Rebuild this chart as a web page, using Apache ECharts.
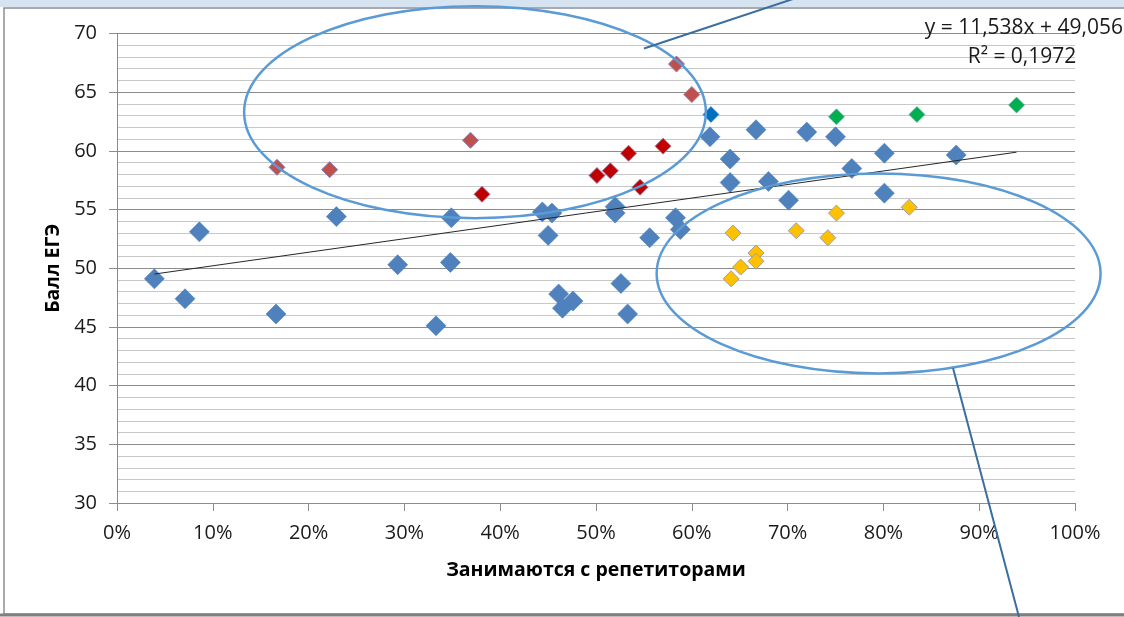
<!DOCTYPE html>
<html><head><meta charset="utf-8">
<script src="https://cdn.jsdelivr.net/npm/echarts@6/dist/echarts.min.js"></script>
<style>html,body{margin:0;padding:0;background:#fff}#c{width:1124px;height:617px}</style>
</head><body><div id="c"></div>
<script>
// ---- data ----
const blueX = [0.039,0.071,0.086,0.166,0.229,0.293,0.333,0.348,0.349,0.444,0.454,0.450,0.461,0.476,0.465,0.520,0.520,0.526,0.533,0.556,0.583,0.588,0.619,0.640,0.640,0.667,0.680,0.701,0.720,0.750,0.767,0.801,0.801,0.876];
const blueY = [49.1,47.4,53.1,46.1,54.4,50.3,45.1,50.5,54.3,54.8,54.7,52.8,47.8,47.2,46.6,55.25,54.7,48.7,46.1,52.6,54.3,53.3,61.2,59.3,57.3,61.8,57.4,55.8,61.6,61.2,58.5,59.8,56.4,59.65];
const darkBlueX = [0.620];
const darkBlueY = [63.1];
const lightRedX = [0.167,0.222,0.369,0.584,0.600];
const lightRedY = [58.6,58.4,60.9,67.4,64.8];
const darkRedX = [0.381,0.501,0.515,0.534,0.570,0.546];
const darkRedY = [56.3,57.9,58.3,59.8,60.4,56.9];
const greenX = [0.751,0.835,0.939];
const greenY = [62.9,63.1,63.9];
const yellowX = [0.643,0.667,0.667,0.651,0.641,0.751,0.827,0.709,0.742];
const yellowY = [53.0,51.3,50.6,50.1,49.1,54.7,55.2,53.2,52.6];
const trendSlope = 11.538, trendIntercept = 49.056;
const equationText = 'y = 11,538x + 49,056';
const r2Text = 'R² = 0,1972';
const xTickValues = [0,0.1,0.2,0.3,0.4,0.5,0.6,0.7,0.8,0.9,1];
const yTickValues = [30,35,40,45,50,55,60,65,70];
const xTitle = 'Занимаются с репетиторами';
const yTitle = 'Балл ЕГЭ';
// annotation ellipses in data space: [cx, cy, rx, ry]
const upperEllipse = [0.3737, 63.3, 0.241, 9.03];
const lowerEllipse = [0.795, 49.56, 0.2317, 8.52];

const zip = (xs, ys) => xs.map((x, i) => [x, ys[i]]);
const allX = [].concat(blueX, darkBlueX, lightRedX, darkRedX, greenX, yellowX);
const xmin = Math.min(...allX), xmax = Math.max(...allX);

const FONT = '"Open Sans", "Noto Sans", sans-serif';
const chart = echarts.init(document.getElementById('c'), null, {renderer: 'canvas'});

function scatter(name, xs, ys, color, size, border, bw) {
  return {
    name, type: 'scatter', symbol: 'diamond', symbolSize: size,
    data: zip(xs, ys),
    itemStyle: {color, borderColor: border, borderWidth: bw, opacity: 1},
    emphasis: {disabled: true}, z: 3
  };
}

chart.setOption({
  animation: false,
  backgroundColor: '#fff',
  grid: {left: 117, right: 49, top: 33.5, bottom: 114, containLabel: false},
  xAxis: {
    type: 'value', min: 0, max: 1, interval: 0.1,
    axisLine: {show: true, lineStyle: {color: '#8c8c8c', width: 1}},
    axisTick: {show: true, length: 8, inside: false, lineStyle: {color: '#8c8c8c'}},
    axisLabel: {margin: 20, fontFamily: FONT, fontSize: 20, color: '#1a1a1a',
      formatter: v => Math.round(v * 100) + '%'},
    splitLine: {show: false},
    name: xTitle, nameLocation: 'middle', nameGap: 57,
    nameTextStyle: {fontFamily: FONT, fontSize: 19.5, fontWeight: 'bold', color: '#000'}
  },
  yAxis: {
    type: 'value', min: 30, max: 70, interval: 5,
    axisLine: {show: true, lineStyle: {color: '#8c8c8c', width: 1}},
    axisTick: {show: true, length: 8, inside: false, lineStyle: {color: '#8c8c8c'}},
    axisLabel: {margin: 20, fontFamily: FONT, fontSize: 20, color: '#1a1a1a'},
    splitLine: {show: true, lineStyle: {color: '#8c8c8c', width: 1.2}},
    minorTick: {show: false, splitNumber: 5},
    minorSplitLine: {show: true, lineStyle: {color: '#c8c8c8', width: 1.2}},
    name: yTitle, nameLocation: 'middle', nameGap: 52, nameRotate: 90,
    nameTextStyle: {fontFamily: FONT, fontSize: 19.5, fontWeight: 'bold', color: '#000'}
  },
  series: [
    {
      type: 'line', data: [[xmin, trendSlope * xmin + trendIntercept], [xmax, trendSlope * xmax + trendIntercept]],
      symbol: 'none', lineStyle: {color: '#262626', width: 1}, z: 4, silent: true
    },
    scatter('blue', blueX, blueY, '#4F81BD', 20, '#4A7EBB', 0.6),
    scatter('lightRed', lightRedX, lightRedY, '#C0504D', 16, '#8C7FB0', 1),
    scatter('darkRed', darkRedX, darkRedY, '#C00000', 16, '#9A7F9F', 1),
    scatter('green', greenX, greenY, '#00B050', 16, '#6FA0A0', 0.6),
    scatter('yellow', yellowX, yellowY, '#FFC000', 16, '#A0A0A0', 1),
    scatter('darkBlue', darkBlueX, darkBlueY, '#0070C0', 16, '#4A7EBB', 0.6)
  ]
});

function px(pt) { return chart.convertToPixel({gridIndex: 0}, pt); }
function ell(e) {
  const c = px([e[0], e[1]]);
  const r = px([e[0] + e[2], e[1] - e[3]]);
  return {type: 'ellipse', shape: {cx: c[0], cy: c[1], rx: r[0] - c[0], ry: r[1] - c[1]},
    style: {fill: 'none', stroke: '#5B9BD5', lineWidth: 2.5}, z: 10, silent: true};
}
chart.setOption({
  graphic: [
    {type: 'rect', shape: {x: 0, y: 0, width: 1124, height: 7}, style: {fill: '#d6e3f1'}, z: 1, silent: true},
    {type: 'rect', shape: {x: 4, y: 8, width: 1130, height: 606}, style: {fill: 'none', stroke: '#8a8f96', lineWidth: 1.5}, z: 1, silent: true},
    {type: 'line', shape: {x1: 0, y1: 615, x2: 1124, y2: 615}, style: {stroke: '#7f7f7f', lineWidth: 3}, z: 1, silent: true},
    ell(upperEllipse),
    ell(lowerEllipse),
    {type: 'line', shape: {x1: 644, y1: 48.5, x2: 796, y2: -2}, style: {stroke: '#3B6E9E', lineWidth: 2}, z: 10, silent: true},
    {type: 'line', shape: {x1: 953, y1: 368, x2: 1019, y2: 617}, style: {stroke: '#3B6E9E', lineWidth: 2}, z: 10, silent: true},
    {type: 'text', x: 1123, y: 28, style: {text: equationText, font: '21px ' + FONT, fill: '#1a1a1a', align: 'right', verticalAlign: 'middle'}, z: 11},
    {type: 'text', x: 1022, y: 57, style: {text: r2Text, font: '21px ' + FONT, fill: '#1a1a1a', align: 'center', verticalAlign: 'middle'}, z: 11}
  ]
});
</script>
</body></html>
